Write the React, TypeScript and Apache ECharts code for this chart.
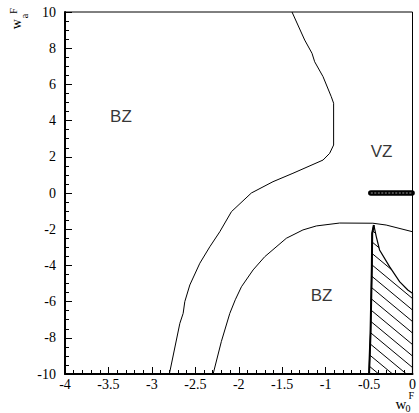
import React, { useEffect, useRef } from "react";
import * as echarts from "echarts";

// Upper contour (from top edge down to bottom edge)
const curveAX = [-1.387, -1.241, -1.157, -1.126, -1.03, -0.935, -0.908, -0.908, -0.954, -1.03, -1.376, -1.606, -1.855, -2.084, -2.218, -2.333, -2.448, -2.563, -2.621, -2.64, -2.678, -2.793, -2.8];
const curveAY = [10, 8.45, 7.72, 7.25, 6.43, 5.32, 4.96, 2.65, 2.19, 1.82, 1.09, 0.625, 0, -1.03, -2.14, -2.97, -3.88, -5.08, -6.0, -6.65, -7.2, -9.87, -10];

// Lower contour (from bottom edge to right edge)
const curveBX = [-2.295, -2.2, -2.103, -2.04, -1.969, -1.835, -1.701, -1.452, -1.261, -1.107, -0.839, -0.456, -0.303, 0];
const curveBY = [-10, -8.2, -6.65, -5.9, -5.18, -4.25, -3.52, -2.5, -2.04, -1.82, -1.66, -1.67, -1.77, -2.14];

// Hatched region boundary
const hatchX = [-0.5, -0.483, -0.468, -0.464, -0.445, -0.417, -0.379, -0.264, -0.149, -0.054, 0, 0];
const hatchY = [-10, -7.73, -4.07, -2.23, -1.77, -2.41, -3.15, -4.07, -4.9, -5.36, -5.54, -10];

// Dark strip at w_a = 0
const stripX = [-0.48, -0.005];
const stripY = [0, 0];

// Region labels
const regionNames = ["BZ", "VZ", "BZ"];
const regionX = [-3.356, -0.356, -1.046];
const regionY = [4.25, 2.32, -5.69];

const serif = "'Liberation Serif', 'Times New Roman', 'DejaVu Serif', serif";
const sans = "'Liberation Sans', Arial, sans-serif";

export default function App() {
  const ref = useRef<HTMLDivElement>(null);
  useEffect(() => {
    document.body.style.margin = "0";
    const chart = echarts.init(ref.current!, null, { renderer: "svg" });
    const pairs = (xs: number[], ys: number[]) => xs.map((x, i) => [x, ys[i]]);
    const txt = (text: string, size: number) => ({ text, fontFamily: serif, fontSize: size, fill: "#000", align: "left", verticalAlign: "middle" });
    const option: any = {
      animation: false,
      backgroundColor: "#fff",
      grid: { left: 65, right: 6, top: 12, bottom: 39, show: true, borderColor: "#000", borderWidth: 1, backgroundColor: "transparent" },
      xAxis: {
        type: "value", min: -4, max: 0, interval: 0.5,
        axisLine: { show: true, onZero: false, lineStyle: { color: "#000", width: 2 } },
        axisTick: { show: true, inside: true, length: 7, lineStyle: { color: "#000", width: 1 } },
        minorTick: { show: true, splitNumber: 5, length: 4, lineStyle: { color: "#000", width: 1 } },
        splitLine: { show: false },
        axisLabel: { color: "#000", fontFamily: serif, fontSize: 14, margin: 3 },
      },
      yAxis: {
        type: "value", min: -10, max: 10, interval: 2,
        axisLine: { show: true, onZero: false, lineStyle: { color: "#000", width: 2 } },
        axisTick: { show: true, inside: true, length: 7, lineStyle: { color: "#000", width: 1 } },
        minorTick: { show: true, splitNumber: 4, length: 4, lineStyle: { color: "#000", width: 1 } },
        splitLine: { show: false },
        axisLabel: { color: "#000", fontFamily: serif, fontSize: 14, margin: 9 },
      },
      series: [
        {
          type: "custom",
          data: pairs(hatchX, hatchY),
          encode: { x: 0, y: 1 },
          renderItem: (params: any, api: any) => {
            if (params.dataIndex !== 0) return null;
            const pts = hatchX.map((x, i) => api.coord([x, hatchY[i]]));
            const s = 0.83;
            const step = 11.5;
            const f = (p: number[]) => p[1] - s * p[0];
            let cmin = Infinity, cmax = -Infinity;
            pts.forEach((p: number[]) => { const c = f(p); if (c < cmin) cmin = c; if (c > cmax) cmax = c; });
            const children: any[] = [];
            for (let c = cmin + step * 0.6; c < cmax; c += step) {
              const xs: number[][] = [];
              for (let i = 0; i < pts.length; i++) {
                const p1 = pts[i], p2 = pts[(i + 1) % pts.length];
                const f1 = f(p1) - c, f2 = f(p2) - c;
                if ((f1 < 0 && f2 >= 0) || (f1 >= 0 && f2 < 0)) {
                  const t = f1 / (f1 - f2);
                  xs.push([p1[0] + t * (p2[0] - p1[0]), p1[1] + t * (p2[1] - p1[1])]);
                }
              }
              xs.sort((a, b) => a[0] - b[0]);
              for (let k = 0; k + 1 < xs.length; k += 2) {
                children.push({ type: "line", shape: { x1: xs[k][0], y1: xs[k][1], x2: xs[k + 1][0], y2: xs[k + 1][1] }, style: { stroke: "#000", lineWidth: 1 } });
              }
            }
            children.push({ type: "polygon", shape: { points: pts }, style: { fill: "none", stroke: "#000", lineWidth: 1.2 } });
            children.push({ type: "polyline", shape: { points: pts.slice(0, 5) }, style: { fill: "none", stroke: "#000", lineWidth: 2 } });
            return { type: "group", children };
          },
          z: 3,
        },
        { type: "line", data: pairs(curveAX, curveAY), symbol: "none", lineStyle: { color: "#000", width: 1 }, z: 2 },
        { type: "line", data: pairs(curveBX, curveBY), symbol: "none", lineStyle: { color: "#000", width: 1 }, z: 2 },
        { type: "line", data: pairs(stripX, stripY), symbol: "none", lineStyle: { color: "#000", width: 5.5, cap: "round" }, z: 4 },
        { type: "line", data: pairs(stripX, stripY), symbol: "none", lineStyle: { color: "#666", width: 1.5, type: [2, 1.5] }, z: 5 },
        {
          type: "scatter",
          symbolSize: 0,
          data: regionNames.map((n, i) => ({ name: n, value: [regionX[i], regionY[i]] })),
          label: { show: true, position: "inside", formatter: "{b}", color: "#000", fontFamily: sans, fontSize: 17 },
          z: 6,
        },
      ],
      graphic: [
        {
          type: "group", x: 21.7, y: 29.3, rotation: Math.PI / 2,
          children: [
            { type: "text", x: 0, y: -4.9, style: txt("w", 14) },
            { type: "text", x: 11, y: 3.1, style: txt("a", 10) },
            { type: "text", x: 15.5, y: -8.5, style: txt("F", 10) },
          ],
        },
        { type: "text", x: 395.5, y: 404.4, style: txt("w", 15) },
        { type: "text", x: 405.5, y: 408.5, style: txt("0", 10) },
        { type: "text", x: 408.5, y: 395.5, style: txt("F", 10) },
      ],
    };
    chart.setOption(option);
    return () => chart.dispose();
  }, []);
  return <div ref={ref} style={{ width: 419, height: 413 }} />;
}
